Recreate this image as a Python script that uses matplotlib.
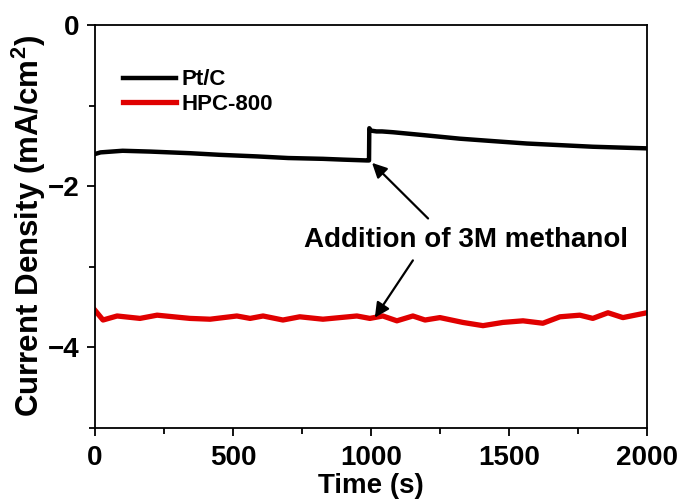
import numpy as np
import matplotlib
matplotlib.use('Agg')
import matplotlib.pyplot as plt
from matplotlib.ticker import MultipleLocator

# Pt/C curve (current density vs time), jump at methanol addition
t_pt = [0, 20, 100, 200, 344, 450, 587, 700, 826, 900, 985, 993,
        994, 1000, 1020, 1040, 1080, 1203, 1322, 1442, 1565, 1685, 1804, 1900, 2000]
j_pt = [-1.60, -1.58, -1.56, -1.57, -1.59, -1.61, -1.63, -1.65, -1.66, -1.67, -1.68, -1.68,
        -1.28, -1.31, -1.32, -1.32, -1.33, -1.37, -1.41, -1.44, -1.47, -1.49, -1.51, -1.52, -1.53]

# HPC-800 curve
t_hpc = [0, 29, 80, 163, 225, 344, 417, 514, 562, 609, 681, 742, 826, 949, 996,
         1043, 1094, 1152, 1196, 1250, 1333, 1406, 1478, 1551, 1623, 1685, 1757,
         1804, 1859, 1913, 2000]
j_hpc = [-3.54, -3.66, -3.61, -3.64, -3.60, -3.64, -3.65, -3.61, -3.64, -3.61, -3.66,
         -3.62, -3.65, -3.61, -3.64, -3.61, -3.67, -3.61, -3.66, -3.63, -3.69, -3.73,
         -3.69, -3.67, -3.70, -3.62, -3.60, -3.64, -3.57, -3.63, -3.57]

plt.rcParams['font.family'] = ['Liberation Sans', 'DejaVu Sans']
plt.rcParams['font.weight'] = 'bold'
plt.rcParams['mathtext.fontset'] = 'custom'
plt.rcParams['mathtext.rm'] = 'Liberation Sans:bold'
plt.rcParams['mathtext.it'] = 'Liberation Sans:bold'

fig = plt.figure(figsize=(6.86, 5.01), dpi=100)
ax = fig.add_axes([0.1385, 0.1457, 0.8045, 0.8043])

ax.plot(t_pt, j_pt, color='black', lw=3.2, solid_joinstyle='round', label='Pt/C')
ax.plot(t_hpc, j_hpc, color='#e00000', lw=3.8, solid_joinstyle='round', label='HPC-800')

ax.set_xlim(0, 2000)
ax.set_ylim(-5, 0)
ax.xaxis.set_major_locator(MultipleLocator(500))
ax.xaxis.set_minor_locator(MultipleLocator(250))
ax.yaxis.set_major_locator(MultipleLocator(2))
ax.yaxis.set_minor_locator(MultipleLocator(1))
ax.tick_params(which='both', direction='out', width=1.3, labelsize=20)
ax.tick_params(which='major', length=6, pad=5)
ax.tick_params(which='minor', length=4)
ax.tick_params(axis='x', which='major', pad=6)
ax.tick_params(right=False, top=False)
for s in ax.spines.values():
    s.set_linewidth(1.3)

ax.set_xlabel('Time (s)', fontsize=20, fontweight='bold', labelpad=2)
ax.set_ylabel('Current Density (mA/cm$^{2}$)', fontsize=22.5, fontweight='bold', labelpad=0)

leg = ax.legend(loc='upper left', bbox_to_anchor=(0.05, 0.89), frameon=False,
                fontsize=16, handlelength=2.4, handletextpad=0.25, labelspacing=0.15,
                borderaxespad=0, borderpad=0)

ax.text(1344, -2.67, 'Addition of 3M methanol', fontsize=20, fontweight='bold',
        ha='center', va='center')
arrow = dict(arrowstyle='-|>', lw=1.6, color='black', mutation_scale=22, shrinkA=0, shrinkB=0)
ax.annotate('', xy=(1004, -1.71), xytext=(1207, -2.40), arrowprops=arrow)
ax.annotate('', xy=(1014, -3.63), xytext=(1152, -2.92), arrowprops=arrow)

fig.savefig('out.png', dpi=100)
